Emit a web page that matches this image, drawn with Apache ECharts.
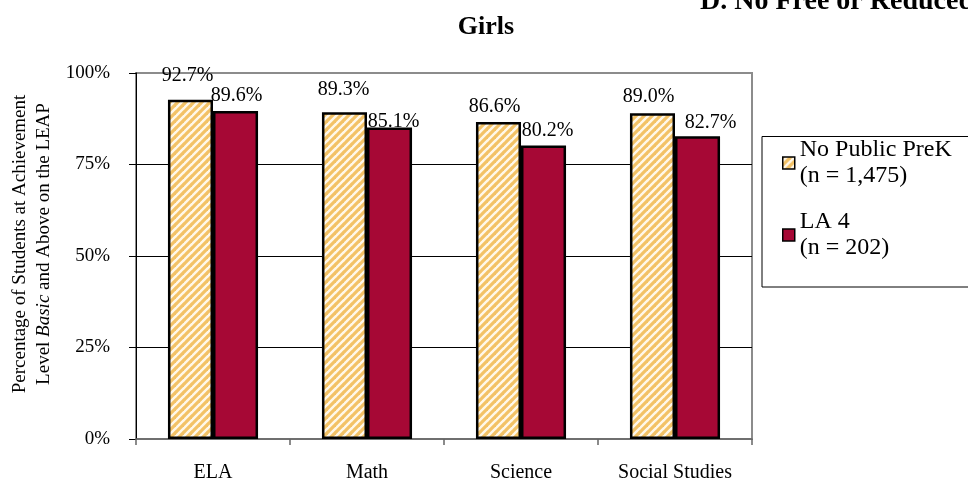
<!DOCTYPE html>
<html>
<head>
<meta charset="utf-8">
<script src="https://cdn.jsdelivr.net/npm/echarts@6/dist/echarts.min.js"></script>
<style>
  html, body { margin: 0; padding: 0; background: #fff; }
  #chart { width: 968px; height: 485px; }
</style>
</head>
<body>
<div id="chart"></div>
<script>
// Share of girls scoring Basic and above on the LEAP, by subject
const categories = ['ELA', 'Math', 'Science', 'Social Studies'];
const noPublicPreK = [92.7, 89.3, 86.6, 89.0];
const la4 = [89.6, 85.1, 80.2, 82.7];
const seriesNames = ['No Public PreK', 'LA 4'];
const sampleSizes = ['1,475', '202'];
const yTicks = [0, 25, 50, 75, 100];

// Small per-label nudges so value labels sit where the report put them
const preKLabelNudge = [[-3, -14], [-1, -12], [-4, -5], [-4, -7]];
const la4LabelNudge = [[1, -5], [4, 4], [4, -5], [13, -4]];

const FONT = '"Liberation Serif", "Times New Roman", serif';

// Diagonal gold/white hatch for the comparison group
function makeHatch() {
  const c = document.createElement('canvas');
  const s = 8;
  c.width = s; c.height = s;
  const ctx = c.getContext('2d');
  ctx.fillStyle = '#fff8ea';
  ctx.fillRect(0, 0, s, s);
  ctx.strokeStyle = '#f3c266';
  ctx.lineWidth = 3.2;
  for (let k = -1; k <= 1; k++) {
    ctx.beginPath();
    ctx.moveTo(k * s - 1, s + 1);
    ctx.lineTo(k * s + s + 1, -1);
    ctx.stroke();
  }
  return c;
}
const hatch = { image: makeHatch(), repeat: 'repeat' };
const RED = '#a60835';

function withNudges(values, nudges) {
  return values.map((v, i) => ({ value: v, label: { offset: nudges[i] } }));
}

const chart = echarts.init(document.getElementById('chart'), null, { renderer: 'canvas' });

chart.setOption({
  animation: false,
  textStyle: { fontFamily: FONT, color: '#000' },
  grid: {
    left: 136, right: 216, top: 73, bottom: 46,
    show: true, borderColor: '#8c8c8c', borderWidth: 2, backgroundColor: 'transparent'
  },
  xAxis: {
    type: 'category',
    data: categories,
    boundaryGap: true,
    axisLine: { lineStyle: { color: '#666', width: 1.5 } },
    axisTick: { show: true, length: 6, lineStyle: { color: '#666', width: 1.5 } },
    axisLabel: { fontFamily: FONT, fontSize: 20, color: '#000', margin: 24 }
  },
  yAxis: {
    type: 'value',
    min: yTicks[0],
    max: yTicks[yTicks.length - 1],
    interval: yTicks[1] - yTicks[0],
    axisLine: { show: true, lineStyle: { color: '#000', width: 1 } },
    axisTick: { show: true, length: 7, lineStyle: { color: '#000' } },
    axisLabel: { fontFamily: FONT, fontSize: 19, color: '#000', margin: 26, formatter: v => v + '%' },
    splitLine: { show: true, showMinLine: false, showMaxLine: false, lineStyle: { color: '#000', width: 1 } }
  },
  legend: {
    orient: 'vertical',
    left: 782,
    top: 124,
    padding: 0,
    itemGap: -6,
    itemWidth: 12,
    itemHeight: 12,
    icon: 'rect',
    data: seriesNames,
    formatter: name => name + '\n(n = ' + sampleSizes[seriesNames.indexOf(name)] + ')',
    textStyle: {
      fontFamily: FONT, fontSize: 24, color: '#000', lineHeight: 26,
      padding: [26, 0, 0, 0]
    },
    itemStyle: { borderColor: '#000', borderWidth: 1.5 }
  },
  graphic: [
    {
      type: 'rect', z: -1, silent: true,
      shape: { x: 762, y: 136.5, width: 240, height: 150.5 },
      style: { fill: '#fff', stroke: '#000', lineWidth: 1 }
    },
    {
      type: 'text', silent: true,
      x: 700, y: 16,
      style: {
        text: 'D. No Free or Reduced Lunch',
        fontFamily: FONT, fontSize: 28, fontWeight: 'bold', fill: '#000',
        align: 'left', verticalAlign: 'bottom'
      }
    },
    {
      type: 'text', silent: true,
      x: 486, y: 27,
      style: {
        text: 'Girls',
        fontFamily: FONT, fontSize: 26, fontWeight: 'bold', fill: '#000',
        align: 'center', verticalAlign: 'middle'
      }
    },
    {
      type: 'text', silent: true,
      x: 32, y: 244, rotation: Math.PI / 2,
      style: {
        text: '{a|Percentage of Students at Achievement}\n{a|Level }{i|Basic}{a| and Above on the LEAP}',
        align: 'center', verticalAlign: 'middle',
        fontFamily: FONT, fontSize: 19, fill: '#000', lineHeight: 24,
        rich: {
          a: { fontFamily: FONT, fontSize: 19, fill: '#000', lineHeight: 24 },
          i: { fontFamily: FONT, fontSize: 19, fontStyle: 'italic', fill: '#000', lineHeight: 24 }
        }
      }
    }
  ],
  series: [
    {
      name: seriesNames[0],
      type: 'bar',
      data: withNudges(noPublicPreK, preKLabelNudge),
      barGap: '0%',
      barCategoryGap: '41.5%',
      itemStyle: { color: hatch, borderColor: '#000', borderWidth: 2.5 },
      label: {
        show: true, position: 'top', distance: 0,
        fontFamily: FONT, fontSize: 20, color: '#000', lineHeight: 20,
        formatter: p => p.value.toFixed(1) + '%'
      }
    },
    {
      name: seriesNames[1],
      type: 'bar',
      data: withNudges(la4, la4LabelNudge),
      barGap: '0%',
      barCategoryGap: '41.5%',
      itemStyle: { color: RED, borderColor: '#000', borderWidth: 2.5 },
      label: {
        show: true, position: 'top', distance: 0,
        fontFamily: FONT, fontSize: 20, color: '#000', lineHeight: 20,
        formatter: p => p.value.toFixed(1) + '%'
      }
    }
  ]
});
</script>
</body>
</html>
